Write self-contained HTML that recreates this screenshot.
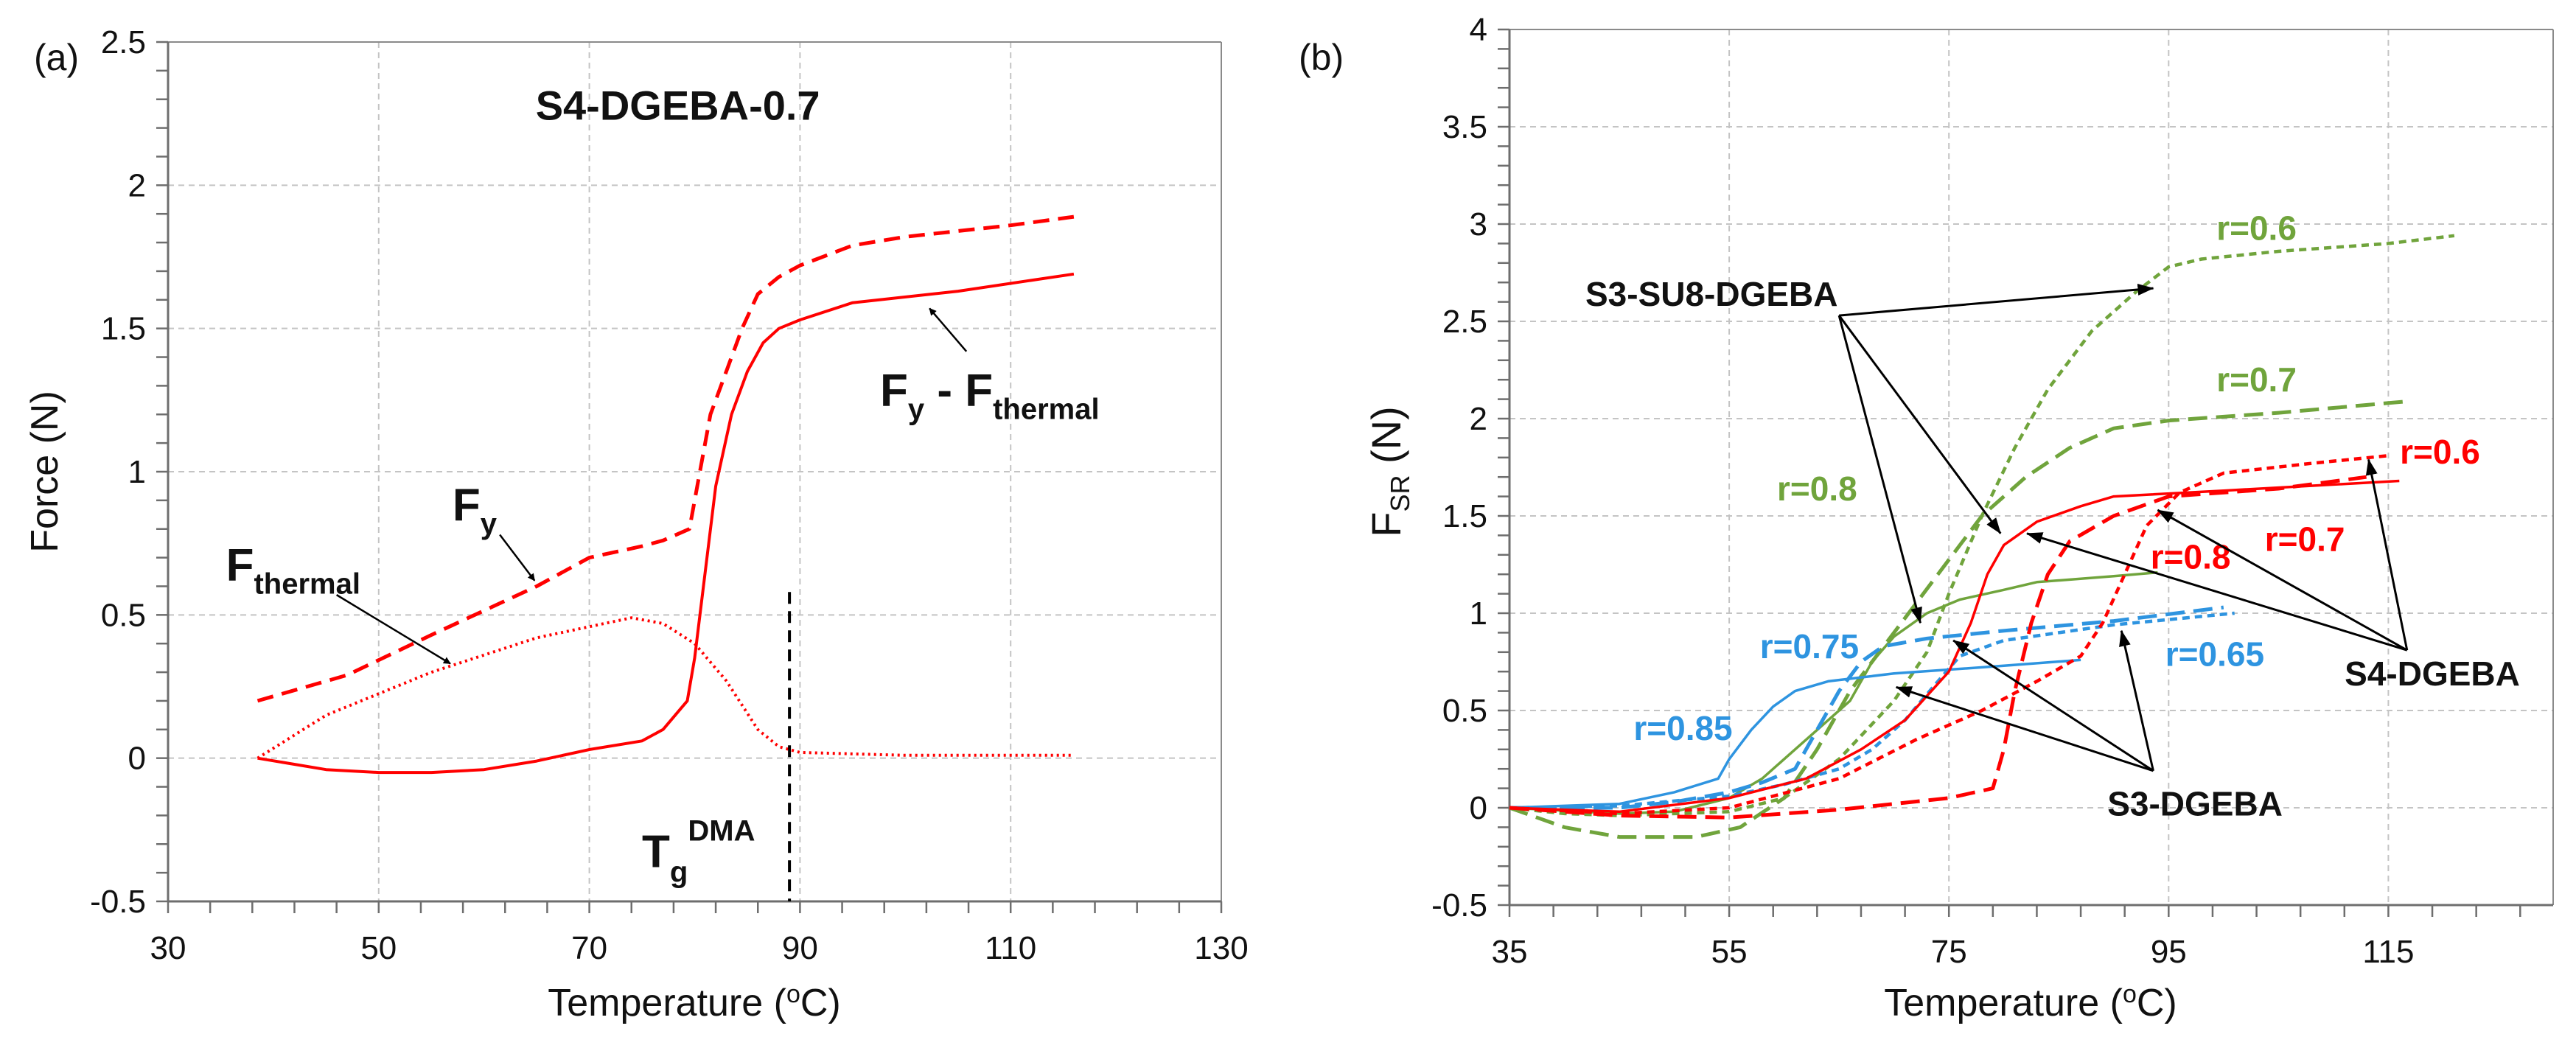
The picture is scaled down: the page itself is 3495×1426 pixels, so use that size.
<!DOCTYPE html>
<html><head><meta charset="utf-8"><style>
html,body{margin:0;padding:0;background:#fff;}
svg{display:block;font-family:"Liberation Sans",sans-serif;}
</style></head><body>
<svg id="chart" width="3495" height="1426" viewBox="0 0 3495 1426" xmlns="http://www.w3.org/2000/svg">
<defs>
<marker id="ah" markerWidth="10" markerHeight="10" refX="9" refY="5" orient="auto" markerUnits="userSpaceOnUse"><path d="M0,0 L10,5 L0,10 z" fill="#000"/></marker>
<marker id="ahl" markerWidth="22" markerHeight="16" refX="21" refY="8" orient="auto" markerUnits="userSpaceOnUse"><path d="M0,0 L22,8 L0,16 z" fill="#000"/></marker>
</defs>
</svg>
<script>
// ---------- Panel (a) data ----------
const aFyX=[38.5,47,55,65,70,75,77,79.5,80.5,81.5,83,84.5,86,88,90,95,100,110,116];
const aFyY=[0.2,0.29,0.43,0.6,0.7,0.74,0.76,0.8,1.0,1.2,1.35,1.5,1.62,1.68,1.72,1.79,1.82,1.86,1.89];
const aThX=[38.5,45,55,65,74,77,80,83,86,88,90,100,116];
const aThY=[0,0.15,0.3,0.42,0.49,0.47,0.4,0.27,0.1,0.04,0.02,0.01,0.01];
const aDiffX=[38.5,45,50,55,60,65,70,75,77,79.3,80,81,82,83.5,85,86.5,88,90,95,105,116];
const aDiffY=[0,-0.04,-0.05,-0.05,-0.04,-0.01,0.03,0.06,0.1,0.2,0.35,0.65,0.95,1.2,1.35,1.45,1.5,1.53,1.59,1.63,1.69];
const aXTicks=[30,50,70,90,110,130];
const aYTicks=[-0.5,0,0.5,1,1.5,2,2.5];
const aYLabels=["-0.5","0","0.5","1","1.5","2","2.5"];
// ---------- Panel (b) data ----------
const bG6X=[35,40,45,55,60,65,70,73,75,78,81,84,88,92,95,98,105,115,121];
const bG6Y=[0,-0.03,-0.04,-0.02,0.05,0.25,0.55,0.8,1.1,1.5,1.85,2.15,2.45,2.65,2.78,2.82,2.86,2.9,2.94];
const bG7X=[35,40,45,52,56,60,63,66,70,74,78,82,86,90,95,105,117];
const bG7Y=[0,-0.1,-0.15,-0.15,-0.1,0.05,0.3,0.6,0.9,1.2,1.5,1.7,1.85,1.95,1.99,2.03,2.09];
const bG8X=[35,45,50,55,58,61,64,66,68,70,73,76,80,83,90,94];
const bG8Y=[0,-0.03,-0.02,0.05,0.15,0.3,0.45,0.55,0.75,0.88,1.0,1.07,1.12,1.16,1.19,1.21];
const bB85X=[35,45,50,54,55,57,59,61,64,70,80,87];
const bB85Y=[0,0.02,0.08,0.15,0.25,0.4,0.52,0.6,0.65,0.69,0.73,0.76];
const bB75X=[35,45,50,55,58,61,63,65,67,69,73,80,90,100];
const bB75Y=[0,0,0.03,0.08,0.13,0.2,0.4,0.6,0.75,0.83,0.87,0.91,0.96,1.03];
const bB65X=[35,45,55,60,65,68,71,74,76,80,85,90,101];
const bB65Y=[0,0.01,0.06,0.12,0.2,0.3,0.45,0.65,0.78,0.86,0.9,0.94,1.0];
const bR8X=[35,45,55,62,67,71,75,77,78.5,80,83,87,90,100,116];
const bR8Y=[0,-0.02,0.05,0.15,0.3,0.45,0.7,0.95,1.2,1.35,1.47,1.55,1.6,1.63,1.68];
const bR7X=[35,45,55,65,75,79,80,81,82.5,84,86,90,95,105,113];
const bR7Y=[0,-0.04,-0.05,-0.01,0.05,0.1,0.3,0.6,0.95,1.2,1.37,1.5,1.6,1.64,1.7];
const bR6X=[35,45,55,65,72,78,83,87,89,91,93,96,100,108,115];
const bR6Y=[0,-0.03,0,0.15,0.35,0.5,0.65,0.78,0.95,1.2,1.45,1.62,1.72,1.77,1.81];
const bXTicks=[35,55,75,95,115];
const bYTicks=[-0.5,0,0.5,1,1.5,2,2.5,3,3.5,4];
const bYLabels=["-0.5","0","0.5","1","1.5","2","2.5","3","3.5","4"];

const svg=document.getElementById('chart');
const NS='http://www.w3.org/2000/svg';
function mk(tag,attrs,parent){const e=document.createElementNS(NS,tag);for(const k in attrs)e.setAttribute(k,attrs[k]);(parent||svg).appendChild(e);return e;}

function axes(x0,x1,y0,y1,xmin,xmax,ymin,ymax){
  return {x:v=>x0+(v-xmin)/(xmax-xmin)*(x1-x0), y:v=>y1-(v-ymin)/(ymax-ymin)*(y1-y0), x0,x1,y0,y1,xmin,xmax,ymin,ymax};
}
function frame(A,xt,yt,ylabels,xminor,yminor,gname){
  const g=mk('g',{});
  
  
  xt.forEach(v=>{ if(v>A.xmin && v<A.xmax){const l=mk('line',{x1:A.x(v),x2:A.x(v),y1:A.y0,y2:A.y1,stroke:'#c4c4c4','stroke-width':2,'stroke-dasharray':'8,6'},g);
    
    }});
  yt.forEach(v=>{ if(v>A.ymin && v<A.ymax){const l=mk('line',{x1:A.x0,x2:A.x1,y1:A.y(v),y2:A.y(v),stroke:'#c4c4c4','stroke-width':2,'stroke-dasharray':'8,6'},g);
    
    }});
  mk('line',{x1:A.x0,x2:A.x1,y1:A.y0,y2:A.y0,stroke:'#8a8a8a','stroke-width':2},g);
  mk('line',{x1:A.x1,x2:A.x1,y1:A.y0,y2:A.y1,stroke:'#8a8a8a','stroke-width':2},g);
  mk('line',{x1:A.x0,x2:A.x0,y1:A.y0,y2:A.y1,stroke:'#6e6e6e','stroke-width':3},g);
  mk('line',{x1:A.x0,x2:A.x1,y1:A.y1,y2:A.y1,stroke:'#6e6e6e','stroke-width':3},g);
  for(let v=A.ymin;v<=A.ymax+1e-9;v+=yminor){mk('line',{x1:A.x0-16,x2:A.x0,y1:A.y(v),y2:A.y(v),stroke:'#6e6e6e','stroke-width':2.5},g);}
  for(let v=A.xmin;v<=A.xmax+1e-9;v+=xminor){mk('line',{x1:A.x(v),x2:A.x(v),y1:A.y1,y2:A.y1+16,stroke:'#6e6e6e','stroke-width':2.5},g);}
  xt.forEach(v=>{const t=mk('text',{x:A.x(v),y:A.y1+78,'text-anchor':'middle','font-size':44,fill:'#111'},g);t.textContent=v;
    
    });
  yt.forEach((v,i)=>{const t=mk('text',{x:A.x0-30,y:A.y(v)+15,'text-anchor':'end','font-size':44,fill:'#111'},g);t.textContent=ylabels[i];
    
    });
}
function series(A,xs,ys,color,dash,w,name){
  const d=xs.map((v,i)=>(i?'L':'M')+A.x(v).toFixed(1)+','+A.y(ys[i]).toFixed(1)).join(' ');
  const p=mk('path',{d:d,fill:'none',stroke:color,'stroke-width':w,'stroke-dasharray':dash,'stroke-linejoin':'round'});
  
  
}
function label(x,y,html,size,color,anchor,weight,name){
  const t=mk('text',{x:x,y:y,'font-size':size,fill:color,'text-anchor':anchor||'start','font-weight':weight||'normal'});
  t.innerHTML=html;
  
  
  return t;
}
function arrow(A,x1,y1,x2,y2,name,big){
  const l=mk('line',{x1:A.x(x1),y1:A.y(y1),x2:A.x(x2),y2:A.y(y2),stroke:'#000','stroke-width':big?3:2.5,'marker-end':big?'url(#ahl)':'url(#ah)'});
  
  
}

// ---------- Panel (a) ----------
const A=axes(228,1657,57,1223,30,130,-0.5,2.5);
frame(A,aXTicks,aYTicks,aYLabels,4,0.1,'panel-a');
series(A,aFyX,aFyY,'#ff0000','22,12',5,'fy-line');
series(A,aThX,aThY,'#ff0000','3,5',4,'fthermal-line');
series(A,aDiffX,aDiffY,'#ff0000','none',4,'fy-minus-fthermal-line');
const tg=mk('line',{x1:A.x(89),x2:A.x(89),y1:A.y(0.58),y2:A.y(-0.5),stroke:'#000','stroke-width':4,'stroke-dasharray':'16,10'});


label(46,95,'(a)',50,'#111','start','normal','panel-a-label');
label(A.x(78.4),A.y(2.28)+20,'S4-DGEBA-0.7',56,'#111','middle','bold','panel-a-title');
label(A.x(57),A.y(0.83),'F<tspan font-size="40" dy="18">y</tspan>',62,'#111','start','bold','fy-annotation');
arrow(A,61.5,0.78,64.8,0.62,'fy-arrow');
label(A.x(35.5),A.y(0.62),'F<tspan font-size="40" dy="18">thermal</tspan>',62,'#111','start','bold','fthermal-annotation');
arrow(A,46,0.57,56.8,0.33,'fthermal-arrow');
label(A.x(97.6),A.y(1.23),'F<tspan font-size="40" dy="18">y</tspan><tspan dy="-18"> - F</tspan><tspan font-size="40" dy="18">thermal</tspan>',62,'#111','start','bold','fy-fthermal-annotation');
arrow(A,105.8,1.42,102.3,1.57,'fy-fthermal-arrow');
label(A.x(75),A.y(-0.38),'T<tspan font-size="40" dy="20">g</tspan><tspan font-size="40" dy="-56">DMA</tspan>',62,'#111','start','bold','tg-dma-annotation');
label(942,1378,'Temperature (<tspan font-size="34" dy="-18">o</tspan><tspan dy="18">C)</tspan>',52,'#111','middle','normal','panel-a-x-axis-title');
const ya=label(0,0,'Force (N)',52,'#111','middle','normal','panel-a-y-axis-title');
ya.setAttribute('transform','translate(78,640) rotate(-90)');

// ---------- Panel (b) ----------
const B=axes(2048,3464,40,1228,35,130,-0.5,4);
frame(B,bXTicks,bYTicks,bYLabels,4,0.1,'panel-b');
const GR='#70a43c', BL='#2e94e0', RD='#ff0000';
series(B,bG6X,bG6Y,GR,'10,7',4.5,'s3su8-r06-line');
series(B,bG7X,bG7Y,GR,'26,12',5,'s3su8-r07-line');
series(B,bG8X,bG8Y,GR,'none',3.5,'s3su8-r08-line');
series(B,bB85X,bB85Y,BL,'none',3.5,'s3-r085-line');
series(B,bB75X,bB75Y,BL,'26,12',5,'s3-r075-line');
series(B,bB65X,bB65Y,BL,'10,7',4.5,'s3-r065-line');
series(B,bR8X,bR8Y,RD,'none',3.5,'s4-r08-line');
series(B,bR7X,bR7Y,RD,'26,12',5,'s4-r07-line');
series(B,bR6X,bR6Y,RD,'10,7',4.5,'s4-r06-line');
label(1762,95,'(b)',50,'#111','start','normal','panel-b-label');
label(B.x(103),B.y(2.98)+16,'r=0.6',46,GR,'middle','bold','label-green-r06');
label(B.x(103),B.y(2.2)+16,'r=0.7',46,GR,'middle','bold','label-green-r07');
label(B.x(63),B.y(1.64)+16,'r=0.8',46,GR,'middle','bold','label-green-r08');
label(B.x(119.7),B.y(1.83)+16,'r=0.6',46,RD,'middle','bold','label-red-r06');
label(B.x(107.4),B.y(1.38)+16,'r=0.7',46,RD,'middle','bold','label-red-r07');
label(B.x(97),B.y(1.29)+16,'r=0.8',46,RD,'middle','bold','label-red-r08');
label(B.x(62.3),B.y(0.83)+16,'r=0.75',46,BL,'middle','bold','label-blue-r075');
label(B.x(99.2),B.y(0.79)+16,'r=0.65',46,BL,'middle','bold','label-blue-r065');
label(B.x(50.8),B.y(0.41)+16,'r=0.85',46,BL,'middle','bold','label-blue-r085');
label(B.x(53.4),B.y(2.64)+16,'S3-SU8-DGEBA',46,'#111','middle','bold','s3su8-dgeba-annotation');
label(B.x(119),B.y(0.69)+16,'S4-DGEBA',46,'#111','middle','bold','s4-dgeba-annotation');
label(B.x(97.4),B.y(0.02)+16,'S3-DGEBA',46,'#111','middle','bold','s3-dgeba-annotation');
arrow(B,65,2.53,93.6,2.67,'s3su8-arrow-r06',true);
arrow(B,65,2.53,79.7,1.41,'s3su8-arrow-r07',true);
arrow(B,65,2.53,72.4,0.95,'s3su8-arrow-r08',true);
arrow(B,116.7,0.81,94,1.53,'s4-arrow-r07',true);
arrow(B,116.7,0.81,82.1,1.41,'s4-arrow-r08',true);
arrow(B,116.7,0.81,113.2,1.79,'s4-arrow-r06',true);
arrow(B,93.6,0.19,70.2,0.62,'s3-arrow-r085',true);
arrow(B,93.6,0.19,75.4,0.86,'s3-arrow-r075',true);
arrow(B,93.6,0.19,90.7,0.91,'s3-arrow-r065',true);
label(2755,1378,'Temperature (<tspan font-size="34" dy="-18">o</tspan><tspan dy="18">C)</tspan>',52,'#111','middle','normal','panel-b-x-axis-title');
const yb=label(0,0,'F<tspan font-size="36" dy="12">SR</tspan><tspan dy="-12"> (N)</tspan>',56,'#111','middle','normal','panel-b-y-axis-title');
yb.setAttribute('transform','translate(1900,640) rotate(-90)');
</script>
</body></html>
